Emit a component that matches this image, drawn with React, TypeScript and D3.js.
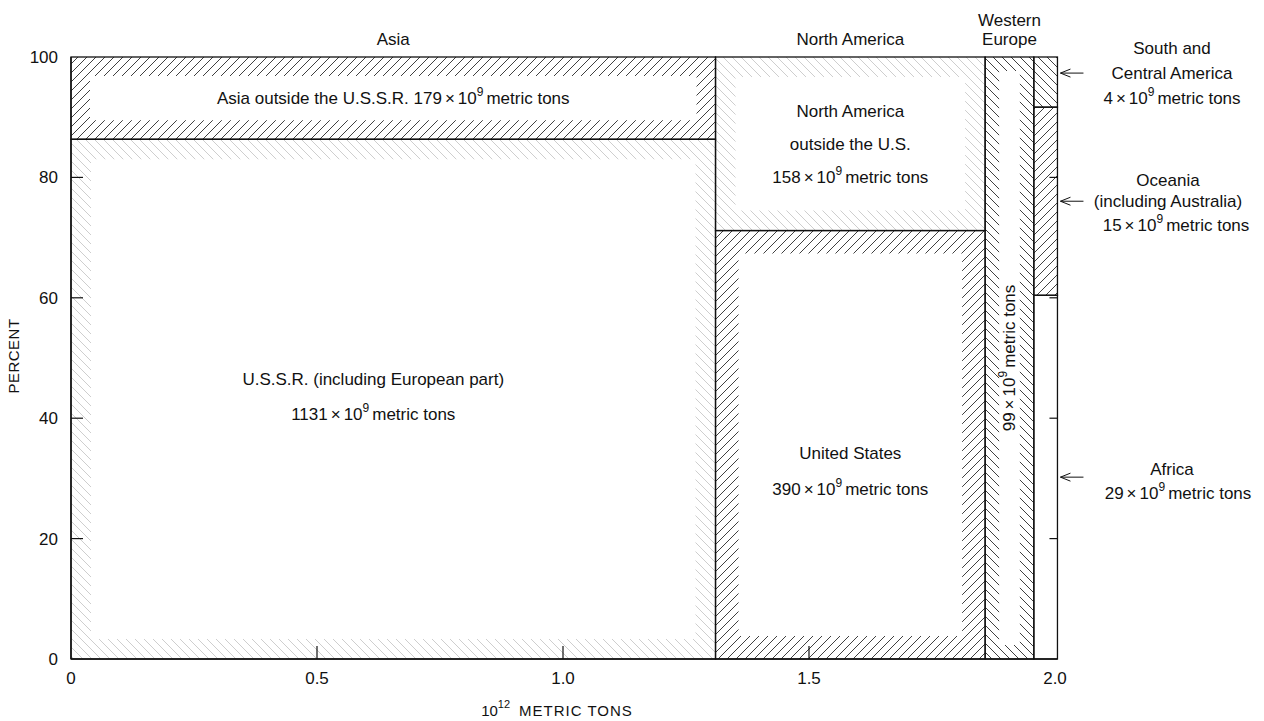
import React from "react";
import * as d3 from "d3";

// ---- data (10^9 metric tons) ----
const columnNames = ["Asia", "North America", "Western Europe", "Southern"];
const segmentNames = [
  "U.S.S.R. (including European part)",
  "Asia outside the U.S.S.R.",
  "United States",
  "North America outside the U.S.",
  "Western Europe",
  "Africa",
  "Oceania (including Australia)",
  "South and Central America",
];
const segmentColumn = [0, 0, 1, 1, 2, 3, 3, 3];
const segmentValues = [1131, 179, 390, 158, 99, 29, 15, 4];
const xTicks = [0, 0.5, 1.0, 1.5, 2.0];
const xTickLabels = ["0", "0.5", "1.0", "1.5", "2.0"];
const yTicks = [0, 20, 40, 60, 80, 100];

// ---- styles ----
const FONT = "'Liberation Sans', Arial, Helvetica, sans-serif";
const DARK = "#2a2a2a";
const FAINT = "#c8c8c8";
const segStyle = [
  { hatch: "back", tone: "faint", mode: "frame", band: 20 },
  { hatch: "fwd", tone: "dark", mode: "frame", band: 19 },
  { hatch: "fwd", tone: "dark", mode: "frame", band: 23 },
  { hatch: "back", tone: "faint", mode: "frame", band: 20 },
  { hatch: "back", tone: "dark", mode: "frame", band: 14 },
  { hatch: "back", tone: "faint", mode: "none", band: 0 },
  { hatch: "fwd", tone: "dark", mode: "full", band: 0 },
  { hatch: "back", tone: "dark", mode: "full", band: 0 },
];

const x = d3.scaleLinear().domain([0, 2]).range([71, 1055]);
const y = d3.scaleLinear().domain([0, 100]).range([659, 57]);

function ValueText({ v }: { v: number }) {
  return (
    <>
      <tspan>{v}</tspan>
      <tspan dx={3}>×</tspan>
      <tspan dx={3}>10</tspan>
      <tspan dy={-8} fontSize={12}>9</tspan>
      <tspan dy={8} dx={3}>metric tons</tspan>
    </>
  );
}

export default function App() {
  const colTotals = columnNames.map((_, c) =>
    d3.sum(segmentValues.filter((_, i) => segmentColumn[i] === c))
  );
  const colStart: number[] = [];
  let acc = 0;
  colTotals.forEach((t) => {
    colStart.push(acc);
    acc += t;
  });
  const segs = segmentValues.map((v, i) => {
    const c = segmentColumn[i];
    const below = d3.sum(
      segmentValues.filter((_, j) => segmentColumn[j] === c && j < i)
    );
    const p0 = (below / colTotals[c]) * 100;
    const p1 = ((below + v) / colTotals[c]) * 100;
    const x0 = x(colStart[c] / 1000);
    const x1 = x((colStart[c] + colTotals[c]) / 1000);
    return { i, c, v, x0, x1, yTop: y(p1), yBot: y(p0), pMid: (p0 + p1) / 2 };
  });

  const patId = (s: any) => `h-${s.hatch}-${s.tone}`;

  const hatchMarks = segs.map((s) => {
    const st = segStyle[s.i];
    if (st.mode === "none") return null;
    const w = s.x1 - s.x0;
    const h = s.yBot - s.yTop;
    let d = `M${s.x0},${s.yTop}h${w}v${h}h${-w}Z`;
    if (st.mode === "frame") {
      const b = st.band;
      d += `M${s.x0 + b},${s.yTop + b}h${w - 2 * b}v${h - 2 * b}h${-(w - 2 * b)}Z`;
    }
    return (
      <path
        key={"h" + s.i}
        d={d}
        fill={`url(#${patId(st)})`}
        fillRule="evenodd"
        stroke="none"
      />
    );
  });

  const cx = (s: any) => (s.x0 + s.x1) / 2;
  const cy = (s: any) => (s.yTop + s.yBot) / 2;
  const [ussr, asiaOut, us, naOut, we, africa, oceania, sca] = segs;
  const plotRight = x(acc / 1000);

  const arrow = (yy: number, key: string) => (
    <g key={key} stroke="#111" strokeWidth={1} fill="none">
      <path d={`M${plotRight + 3},${yy}H${plotRight + 26}`} />
      <path d={`M${plotRight + 13},${yy - 4}L${plotRight + 3},${yy}L${plotRight + 13},${yy + 4}`} />
    </g>
  );

  const rightX = 1172;
  const scaY = y(sca.pMid) - 9;
  const ocY = y(oceania.pMid);
  const afY = y(africa.pMid);

  return (
    <svg
      width={1264}
      height={721}
      style={{ position: "absolute", left: 0, top: 0, background: "#fff" }}
      fontFamily={FONT}
      fontSize={17}
    >
      <defs>
        {["fwd", "back"].map((dir) =>
          [
            ["dark", DARK],
            ["faint", FAINT],
          ].map(([tone, col]) => (
            <pattern
              key={dir + tone}
              id={`h-${dir}-${tone}`}
              patternUnits="userSpaceOnUse"
              width={9}
              height={9}
            >
              <path
                d={
                  dir === "fwd"
                    ? "M-2,2 l4,-4 M0,9 l9,-9 M7,11 l4,-4"
                    : "M0,0 l9,9 M-2,7 l4,4 M7,-2 l4,4"
                }
                stroke={col}
                strokeWidth={0.9}
              />
            </pattern>
          ))
        )}
      </defs>

      {hatchMarks}

      {segs.map((s) => (
        <rect
          key={"r" + s.i}
          x={s.x0}
          y={s.yTop}
          width={s.x1 - s.x0}
          height={s.yBot - s.yTop}
          fill="none"
          stroke="#111"
          strokeWidth={1.3}
        />
      ))}

      {/* axes */}
      <line x1={x(0)} x2={x(0)} y1={y(0)} y2={y(100)} stroke="#111" strokeWidth={1.4} />
      <line x1={x(0)} x2={plotRight} y1={y(0)} y2={y(0)} stroke="#111" strokeWidth={1.6} />
      {yTicks.map((t) => (
        <g key={"yt" + t}>
          {t > 0 && t < 100 && (
            <line x1={x(0)} x2={x(0) + 12} y1={y(t)} y2={y(t)} stroke="#111" strokeWidth={1.2} />
          )}
          {t > 0 && t < 100 && (
            <line x1={plotRight} x2={plotRight - 8} y1={y(t)} y2={y(t)} stroke="#111" strokeWidth={1.2} />
          )}
          <text x={x(0) - 13} y={y(t)} dy="0.35em" textAnchor="end" fill="#111">
            {t}
          </text>
        </g>
      ))}
      {xTicks.map((t, i) => (
        <g key={"xt" + t}>
          {t > 0 && t < 2 && (
            <line x1={x(t)} x2={x(t)} y1={y(0)} y2={y(0) - 13} stroke="#111" strokeWidth={1.2} />
          )}
          <text x={x(t)} y={684} textAnchor="middle" fill="#111">
            {xTickLabels[i]}
          </text>
        </g>
      ))}
      <text x={557} y={716} textAnchor="middle" fill="#111" fontSize={15}>
        <tspan>10</tspan>
        <tspan dy={-8} fontSize={11}>12</tspan>
        <tspan dy={8} dx={9} letterSpacing={1}>METRIC  TONS</tspan>
      </text>
      <text
        transform={`translate(19,${y(50) - 2}) rotate(-90)`}
        textAnchor="middle"
        fill="#111"
        fontSize={15}
        letterSpacing={0.5}
      >
        PERCENT
      </text>

      {/* column headers */}
      <text x={(ussr.x0 + ussr.x1) / 2} y={45} textAnchor="middle" fill="#111">
        {columnNames[0]}
      </text>
      <text x={(us.x0 + us.x1) / 2} y={45} textAnchor="middle" fill="#111">
        {columnNames[1]}
      </text>
      <text x={cx(we)} y={26} textAnchor="middle" fill="#111">Western</text>
      <text x={cx(we)} y={45} textAnchor="middle" fill="#111">Europe</text>

      {/* in-box labels */}
      <text x={cx(asiaOut)} y={cy(asiaOut)} dy="0.35em" textAnchor="middle" fill="#111">
        <tspan>{segmentNames[1]} </tspan>
        <ValueText v={asiaOut.v} />
      </text>
      <text x={cx(ussr) - 20} y={cy(ussr) - 20} dy="0.35em" textAnchor="middle" fill="#111">
        {segmentNames[0]}
      </text>
      <text x={cx(ussr) - 20} y={cy(ussr) + 15} dy="0.35em" textAnchor="middle" fill="#111">
        <ValueText v={ussr.v} />
      </text>
      <text x={cx(naOut)} y={cy(naOut) - 33} dy="0.35em" textAnchor="middle" fill="#111">North America</text>
      <text x={cx(naOut)} y={cy(naOut)} dy="0.35em" textAnchor="middle" fill="#111">outside the U.S.</text>
      <text x={cx(naOut)} y={cy(naOut) + 33} dy="0.35em" textAnchor="middle" fill="#111">
        <ValueText v={naOut.v} />
      </text>
      <text x={cx(us)} y={cy(us) + 8} dy="0.35em" textAnchor="middle" fill="#111">United States</text>
      <text x={cx(us)} y={cy(us) + 44} dy="0.35em" textAnchor="middle" fill="#111">
        <ValueText v={us.v} />
      </text>
      <text
        transform={`translate(${cx(we) + 6},${cy(we)}) rotate(-90)`}
        textAnchor="middle"
        fill="#111"
      >
        <ValueText v={we.v} />
      </text>

      {/* right-hand labels */}
      {arrow(scaY, "a1")}
      {arrow(ocY, "a2")}
      {arrow(afY, "a3")}
      <text x={rightX} y={scaY - 25} dy="0.35em" textAnchor="middle" fill="#111">South  and</text>
      <text x={rightX} y={scaY} dy="0.35em" textAnchor="middle" fill="#111">Central America</text>
      <text x={rightX} y={scaY + 25} dy="0.35em" textAnchor="middle" fill="#111">
        <ValueText v={sca.v} />
      </text>
      <text x={rightX - 4} y={ocY - 21} dy="0.35em" textAnchor="middle" fill="#111">Oceania</text>
      <text x={rightX - 4} y={ocY} dy="0.35em" textAnchor="middle" fill="#111">(including Australia)</text>
      <text x={rightX + 4} y={ocY + 24} dy="0.35em" textAnchor="middle" fill="#111">
        <ValueText v={oceania.v} />
      </text>
      <text x={rightX} y={afY - 8} dy="0.35em" textAnchor="middle" fill="#111">Africa</text>
      <text x={rightX + 6} y={afY + 16} dy="0.35em" textAnchor="middle" fill="#111">
        <ValueText v={africa.v} />
      </text>
    </svg>
  );
}
